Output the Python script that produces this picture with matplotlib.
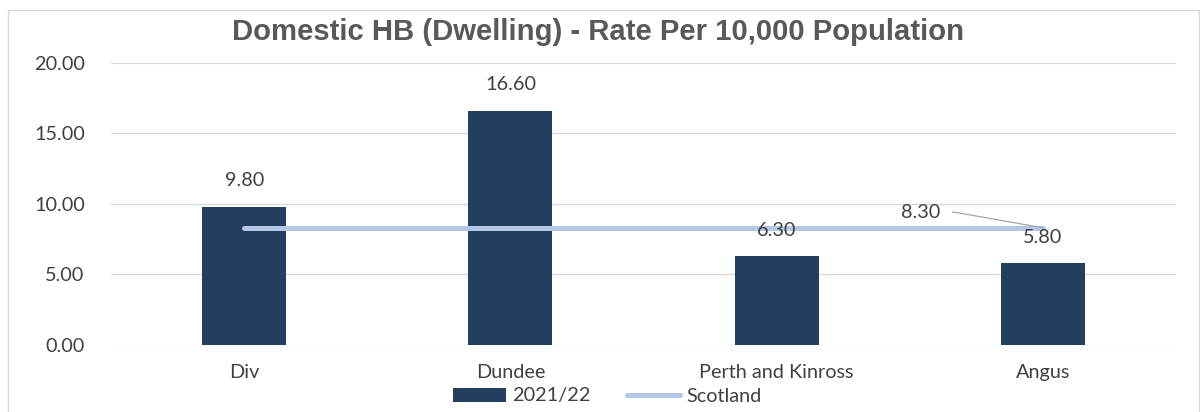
import matplotlib
matplotlib.use("Agg")
import matplotlib.pyplot as plt
from matplotlib.patches import Rectangle, Patch
from matplotlib.lines import Line2D

categories = ["Div", "Dundee", "Perth and Kinross", "Angus"]
rate_2021_22 = [9.80, 16.60, 6.30, 5.80]
scotland = [8.30, 8.30, 8.30, 8.30]
yticks = [0, 5, 10, 15, 20]
title = "Domestic HB (Dwelling) - Rate Per 10,000 Population"
series_names = ["2021/22", "Scotland"]

BAR_COLOR = "#243E60"
LINE_COLOR = "#B4C7E7"
TEXT_COLOR = "#404040"
GRID_COLOR = "#D9D9D9"

plt.rcParams["font.family"] = ["Lato", "DejaVu Sans"]

W, H = 1200, 412
fig = plt.figure(figsize=(W / 100, H / 100), dpi=100)
ax = fig.add_axes([111 / W, 1 - 345 / H, (1176 - 111) / W, (345 - 62.5) / H])

x = list(range(len(categories)))
ax.bar(x, rate_2021_22, width=0.316, color=BAR_COLOR, zorder=2)
ax.plot(x, scotland, color=LINE_COLOR, lw=3.6, solid_capstyle="round", zorder=3)

ax.set_xlim(-0.5, len(categories) - 0.5)
ax.set_ylim(0, 20)
ax.set_yticks(yticks)
ax.set_yticklabels([f"{v:.2f}" for v in yticks])
ax.set_xticks(x)
ax.set_xticklabels(categories)
ax.tick_params(axis="both", length=0, labelsize=14.3, labelcolor=TEXT_COLOR)
ax.tick_params(axis="y", pad=19)
ax.tick_params(axis="x", pad=14)
ax.grid(axis="y", color=GRID_COLOR, lw=1.0, zorder=0)
ax.set_axisbelow(True)
for s in ax.spines.values():
    s.set_visible(False)

for xi, v in zip(x, rate_2021_22):
    ax.annotate(f"{v:.2f}", xy=(xi, v), xytext=(0, 18.7), textcoords="offset points",
                ha="center", va="center", fontsize=14.3, color=TEXT_COLOR, zorder=4)

ax.annotate(f"{scotland[-1]:.2f}", xy=(x[-1], scotland[-1]), xytext=(-87.8, 11.2),
            textcoords="offset points", ha="center", va="center", fontsize=14.3,
            color=TEXT_COLOR, zorder=4,
            arrowprops=dict(arrowstyle="-", color="#A6A6A6", lw=0.9, relpos=(1, 0.5),
                            shrinkA=6.5, shrinkB=0,
                            connectionstyle="arc,angleA=0,angleB=0,armA=14,armB=0,rad=0"))

fig.text(0.498, 1 - 32 / H, title, ha="center", va="center", fontsize=21.1,
         fontweight="bold", color="#595959", family="Liberation Sans")

handles = [Patch(facecolor=BAR_COLOR, edgecolor="none"),
           Line2D([0], [0], color=LINE_COLOR, lw=3.6, solid_capstyle="round")]
fig.legend(handles, series_names, loc="center", bbox_to_anchor=(607 / W, 1 - 396 / H),
           ncol=2, frameon=False, fontsize=14.3, labelcolor=TEXT_COLOR,
           handlelength=2.7, handletextpad=0.3, columnspacing=1.8, borderpad=0)

fig.patches.append(Rectangle((7.5 / W, -0.2), (1199 - 7.5) / W, 1.2 - 10 / H,
                             transform=fig.transFigure, fill=False,
                             edgecolor=GRID_COLOR, lw=1.0))

fig.savefig("out.png", dpi=100, facecolor="white")
